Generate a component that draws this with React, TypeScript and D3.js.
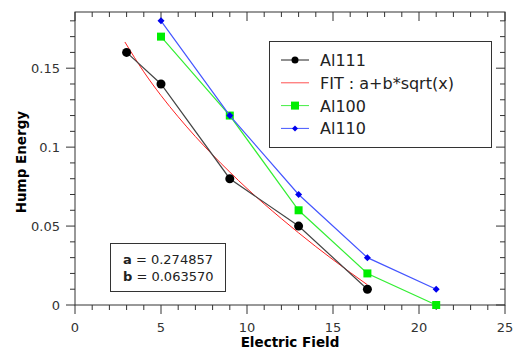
import React, { useEffect, useRef } from 'react';
import * as d3 from 'd3';

const al111X = [3, 5, 9, 13, 17];
const al111Y = [0.16, 0.14, 0.08, 0.05, 0.01];
const al100X = [5, 9, 13, 17, 21];
const al100Y = [0.17, 0.12, 0.06, 0.02, 0];
const al110X = [5, 9, 13, 17, 21];
const al110Y = [0.18, 0.12, 0.07, 0.03, 0.01];
// fit curve read along its length
const fitX = [2.9, 4, 5, 6, 7, 8, 9, 10, 11, 12, 13, 14, 15, 16, 17];
const fitY = [0.1666, 0.1477, 0.1327, 0.1192, 0.1067, 0.0951, 0.0842, 0.0738, 0.064, 0.0547, 0.0457, 0.037, 0.0287, 0.0206, 0.0128];
const xTicks = [0, 5, 10, 15, 20, 25];
const yTicks = [0, 0.05, 0.1, 0.15];
const legendNames = ['Al111', 'FIT : a+b*sqrt(x)', 'Al100', 'Al110'];
const fitParams = [['a', '0.274857'], ['b', '0.063570']];

const W = 515, H = 349;
const margin = { left: 75, right: 10, top: 12, bottom: 44 };
const font = 'DejaVu Sans, sans-serif';

const App = () => {
  const ref = useRef<SVGSVGElement>(null);

  useEffect(() => {
    const svg = d3.select(ref.current);
    svg.selectAll('*').remove();

    const x = d3.scaleLinear().domain([0, 25]).range([margin.left, W - margin.right]);
    const y = d3.scaleLinear().domain([0, 0.1856]).range([H - margin.bottom, margin.top]);
    const axisColor = '#333';

    // frame
    svg.append('rect')
      .attr('x', x(0)).attr('y', y(0.1856))
      .attr('width', x(25) - x(0)).attr('height', y(0) - y(0.1856))
      .attr('fill', 'none').attr('stroke', axisColor).attr('stroke-width', 1);

    const g = svg.append('g').attr('stroke', axisColor).attr('stroke-width', 1);
    d3.range(0, 26).forEach(v => {
      const len = v % 5 === 0 ? 9 : 5;
      g.append('line').attr('x1', x(v)).attr('x2', x(v)).attr('y1', y(0)).attr('y2', y(0) + len);
      g.append('line').attr('x1', x(v)).attr('x2', x(v)).attr('y1', y(0.1856)).attr('y2', y(0.1856) + len);
    });
    d3.range(0, 19).forEach(i => {
      const v = i / 100;
      const len = i % 5 === 0 ? 9 : 5;
      g.append('line').attr('y1', y(v)).attr('y2', y(v)).attr('x1', x(0)).attr('x2', x(0) - len);
      g.append('line').attr('y1', y(v)).attr('y2', y(v)).attr('x1', x(25)).attr('x2', x(25) - len);
    });

    svg.append('g').selectAll('text').data(xTicks).join('text')
      .attr('x', d => x(d)).attr('y', y(0) + 27)
      .attr('text-anchor', 'middle').attr('font-family', font).attr('font-size', 13).attr('fill', '#333')
      .text(d => String(d));
    svg.append('g').selectAll('text').data(yTicks).join('text')
      .attr('x', x(0) - 15).attr('y', d => y(d) + 5)
      .attr('text-anchor', 'end').attr('font-family', font).attr('font-size', 13).attr('fill', '#333')
      .text(d => String(d));

    svg.append('text').attr('x', x(12.5)).attr('y', 347)
      .attr('text-anchor', 'middle').attr('font-family', font).attr('font-size', 13.5).attr('font-weight', 'bold')
      .text('Electric Field');
    svg.append('text').attr('transform', `translate(26,${y(0.0905)}) rotate(-90)`)
      .attr('text-anchor', 'middle').attr('font-family', font).attr('font-size', 13.5).attr('font-weight', 'bold')
      .text('Hump Energy');

    const line = d3.line<[number, number]>().x(d => x(d[0])).y(d => y(d[1]));
    const pairs = (xs: number[], ys: number[]) => xs.map((v, i) => [v, ys[i]] as [number, number]);

    svg.append('path').attr('d', d3.line<[number, number]>().x(d => x(d[0])).y(d => y(d[1])).curve(d3.curveMonotoneX)(pairs(fitX, fitY)))
      .attr('fill', 'none').attr('stroke', '#ff2020').attr('stroke-width', 1);

    svg.append('path').attr('d', line(pairs(al111X, al111Y)))
      .attr('fill', 'none').attr('stroke', '#444').attr('stroke-width', 1.2);
    svg.append('g').selectAll('circle').data(pairs(al111X, al111Y)).join('circle')
      .attr('cx', d => x(d[0])).attr('cy', d => y(d[1])).attr('r', 4.5).attr('fill', '#000');

    svg.append('path').attr('d', line(pairs(al100X, al100Y)))
      .attr('fill', 'none').attr('stroke', '#33ee33').attr('stroke-width', 1.2);
    svg.append('g').selectAll('rect').data(pairs(al100X, al100Y)).join('rect')
      .attr('x', d => x(d[0]) - 4).attr('y', d => y(d[1]) - 4).attr('width', 8).attr('height', 8).attr('fill', '#00ee00');

    svg.append('path').attr('d', line(pairs(al110X, al110Y)))
      .attr('fill', 'none').attr('stroke', '#4455ff').attr('stroke-width', 1.2);
    svg.append('g').selectAll('path').data(pairs(al110X, al110Y)).join('path')
      .attr('d', d => `M${x(d[0])},${y(d[1]) - 3.5}l3.5,3.5l-3.5,3.5l-3.5,-3.5z`).attr('fill', '#0000ee');

    // legend
    const lg = svg.append('g');
    lg.append('rect').attr('x', 269.5).attr('y', 41.5).attr('width', 222).attr('height', 106)
      .attr('fill', '#fff').attr('stroke', '#333').attr('stroke-width', 1);
    const lColors = ['#222', '#ff5050', '#44ee44', '#4455ff'];
    legendNames.forEach((name, i) => {
      const yy = 60 + i * 22.8;
      lg.append('line').attr('x1', 281).attr('x2', 309).attr('y1', yy).attr('y2', yy)
        .attr('stroke', lColors[i]).attr('stroke-width', 1);
      if (i === 0) lg.append('circle').attr('cx', 295).attr('cy', yy).attr('r', 3.5).attr('fill', '#000');
      if (i === 2) lg.append('rect').attr('x', 291).attr('y', yy - 4).attr('width', 8).attr('height', 8).attr('fill', '#00ee00');
      if (i === 3) lg.append('path').attr('d', `M295,${yy - 3}l3,3l-3,3l-3,-3z`).attr('fill', '#0000ee');
      lg.append('text').attr('x', 320).attr('y', yy + 6)
        .attr('font-family', font).attr('font-size', 16).attr('fill', '#222').text(name);
    });

    // fit parameters box
    const pb = svg.append('g');
    pb.append('rect').attr('x', 110.5).attr('y', 243.5).attr('width', 115).attr('height', 48)
      .attr('fill', '#fff').attr('stroke', '#333').attr('stroke-width', 1);
    fitParams.forEach(([k, v], i) => {
      const t = pb.append('text').attr('x', 123).attr('y', 264 + i * 17)
        .attr('font-family', font).attr('font-size', 13).attr('fill', '#222');
      t.append('tspan').attr('font-weight', 'bold').text(k);
      t.append('tspan').text(` = ${v}`);
    });
  }, []);

  return (
    <svg ref={ref} width={W} height={H}
      style={{ position: 'absolute', left: 0, top: 0, background: '#fff' }} />
  );
};

export default App;
